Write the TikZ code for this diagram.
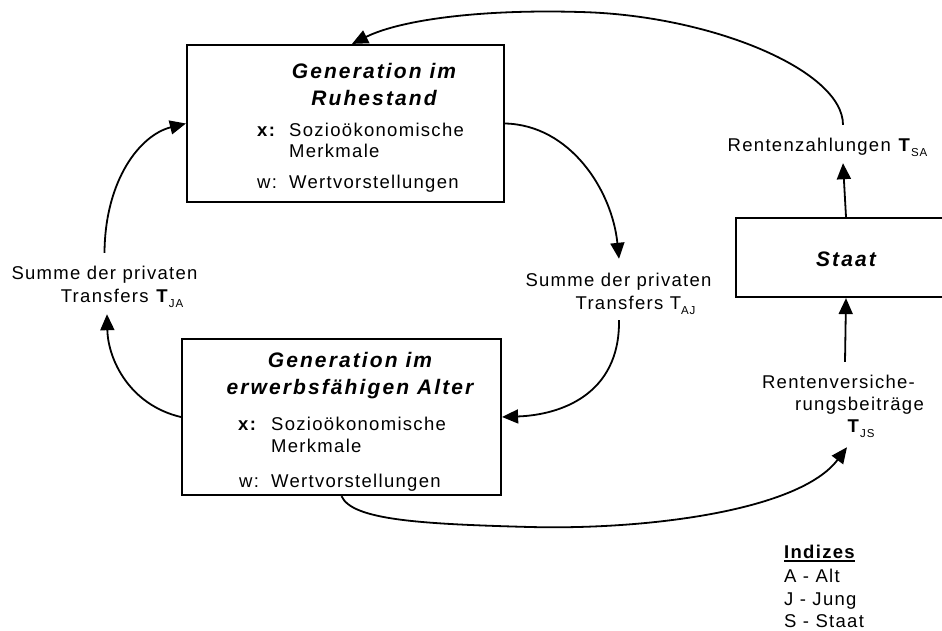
\documentclass[tikz,border=0pt]{standalone}
\usepackage{fontspec}
\setmainfont{Liberation Sans}
\newfontfamily\spacedR[LetterSpace=7]{Liberation Sans}
\newfontfamily\spacedT[LetterSpace=10]{Liberation Sans}
\usetikzlibrary{arrows.meta}
\newcommand\mysub[1]{\raisebox{-5pt}{\fontsize{11.5}{12}\selectfont #1}}
\newcommand\myul[1]{\setbox0\hbox{#1}\rlap{\rule[-3.5pt]{\wd0}{1.6pt}}#1}
\begin{document}
\begin{tikzpicture}[x=1pt,y=-1pt,
  box/.style={draw,line width=2.2pt,rectangle,inner sep=0},
  txt/.style={font=\spacedR\fontsize{18.5}{23}\selectfont,inner sep=0,text height=14pt,text depth=4pt,anchor=base},
  txtw/.style={txt,anchor=base west},
  bld/.style={txtw,font=\spacedR\bfseries\fontsize{18.5}{23}\selectfont},
  ttl/.style={font=\spacedT\bfseries\itshape\fontsize{21}{27}\selectfont,inner sep=0,anchor=base},
  con/.style={line width=1.8pt,-{Triangle[length=16pt,width=14pt]}}]
\useasboundingbox (0,0) rectangle (942,630);
\clip (0,0) rectangle (942,630);
% Generation im Ruhestand
\node[box,minimum width=317pt,minimum height=157pt] (ruhe) at (345.5,123.5) {};
\node[ttl] (ruheT1) at (374,78) {Generation im};
\node[ttl] (ruheT2) at (374,105) {Ruhestand};
\node[bld] (ruheX) at (257,136) {x:};
\node[txtw] (ruheS) at (289,136) {Sozioökonomische};
\node[txtw] (ruheM) at (289,157) {Merkmale};
\node[txtw] (ruheW) at (257,188) {w:};
\node[txtw] (ruheWv) at (289,188) {Wertvorstellungen};
% Generation im erwerbsfaehigen Alter
\node[box,minimum width=319pt,minimum height=156pt] (erw) at (341.5,417) {};
\node[ttl] (erwT1) at (350,367) {Generation im};
\node[ttl] (erwT2) at (350,394) {erwerbsfähigen Alter};
\node[bld] (erwX) at (238,430) {x:};
\node[txtw] (erwS) at (271,430) {Sozioökonomische};
\node[txtw] (erwM) at (271,452) {Merkmale};
\node[txtw] (erwW) at (239,487) {w:};
\node[txtw] (erwWv) at (271,487) {Wertvorstellungen};
% Staat
\node[box,minimum width=220pt,minimum height=79pt] (staat) at (846,257.5) {};
\node[ttl] (staatT) at (846,266) {Staat};
% labels
\node[txt] (rente) at (827.5,151) {Rentenzahlungen \textbf{T}\mysub{SA}};
\node[txt] (sumR1) at (618.5,286) {Summe der privaten};
\node[txt] (sumR2) at (635.5,309) {Transfers T\mysub{AJ}};
\node[txt] (sumL1) at (104.5,279) {Summe der privaten};
\node[txt] (sumL2) at (122,302) {Transfers \textbf{T}\mysub{JA}};
\node[txt] (beit1) at (838.5,388) {Rentenversiche-};
\node[txt] (beit2) at (859.5,410) {rungsbeiträge};
\node[txt] (beit3) at (861,432) {\textbf{T}\mysub{JS}};
% Indizes
\node[bld] (idx0) at (784,558) {\myul{Indizes}};
\node[txtw] (idx1) at (784,582) {A - Alt};
\node[txtw] (idx2) at (784,605) {J - Jung};
\node[txtw] (idx3) at (784,627) {S - Staat};
% connectors
\draw[con] ([xshift=15.5pt,yshift=12pt]rente.north) .. controls (843,70) and (710,15) .. (580,12)
   .. controls (480,9) and (400,20) .. ([xshift=6.5pt]ruhe.north);
\draw[con] (ruhe.east) .. controls (570,125) and (612,190) .. ([xshift=0.5pt,yshift=13pt]sumR1.north);
\draw[con] ([xshift=-16.5pt,yshift=-7pt]sumR2.south) .. controls (620,395) and (560,415) .. (erw.east);
\draw[con] (erw.west) .. controls (130,405) and (108,360) .. ([xshift=-15pt,yshift=-8pt]sumL2.south);
\draw[con] ([yshift=12pt]sumL1.north) .. controls (105,180) and (140,135) .. (ruhe.west);
\draw[con] (erw.south) .. controls (352,520) and (420,524) .. (530,527)
   .. controls (650,530) and (800,510) .. ([xshift=-14pt,yshift=-11pt]beit3.south);
\draw[con] ([xshift=6.5pt,yshift=12pt]beit1.north) -- (staat.south);
\draw[con] (staat.north) -- ([xshift=15.5pt,yshift=-8pt]rente.south);
\end{tikzpicture}
\end{document}
